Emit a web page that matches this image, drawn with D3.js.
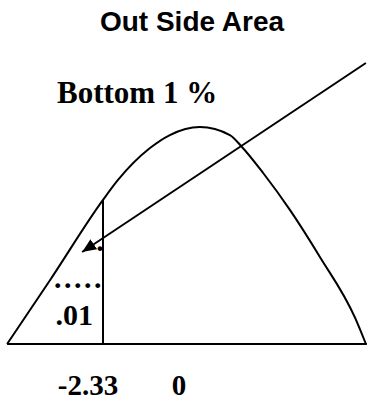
<!DOCTYPE html>
<html>
<head>
<meta charset="utf-8">
<script src="https://cdn.jsdelivr.net/npm/d3@7"></script>
<style>
  body { margin: 0; background: #fff; }
</style>
</head>
<body>
<div id="container"></div>
<script>
// curve: x in z units, y in relative height (peak = 1)
const curveZ = [-5.27, -3.95, -2.33, -1.87, -0.89, -0.28, 0.64, 1.56, 1.93, 2.58, 3.40, 4.32, 5.40, 5.73];
const curveH = [0, 0.295, 0.664, 0.756, 0.903, 0.963, 1, 0.963, 0.908, 0.788, 0.618, 0.401, 0.120, 0];
const cutZ = -2.33;
const cutH = 0.664;
const tickValues = [-2.33, 0];
const tickLabels = ["-2.33", "0"];
const arrowFrom = [5.73, 1.295];
const arrowTo = [-2.97, 0.424];
const title = "Out Side Area";
const tailLabel = "Bottom 1 %";
const areaLabel = ".01";

const w = 367;
const h = 402;

const x = d3.scaleLinear().domain([-2.33, 0]).range([103, 179]);
const y = d3.scaleLinear().domain([0, 1]).range([344, 127]);

const serif = "'Liberation Serif', 'Times New Roman', serif";

const svg = d3.select("#container")
  .append("svg")
  .attr("width", w)
  .attr("height", h);

svg.append("defs").append("marker")
  .attr("id", "head")
  .attr("viewBox", "0 0 14 12")
  .attr("refX", 14)
  .attr("refY", 6)
  .attr("markerWidth", 14)
  .attr("markerHeight", 12)
  .attr("markerUnits", "userSpaceOnUse")
  .attr("orient", "auto")
  .append("path")
  .attr("d", "M0,0 L14,6 L0,12 Z")
  .attr("fill", "#000");

// baseline
svg.append("line")
  .attr("x1", x(curveZ[0]))
  .attr("x2", x(curveZ[curveZ.length - 1]) + 1)
  .attr("y1", y(0))
  .attr("y2", y(0))
  .attr("stroke", "#000")
  .attr("stroke-width", 2);

const pts = curveZ.map((z, i) => [z, curveH[i]]);
const line = d3.line()
  .x(d => x(d[0]))
  .y(d => y(d[1]))
  .curve(d3.curveMonotoneX);

svg.append("path")
  .datum(pts)
  .attr("d", line)
  .attr("fill", "none")
  .attr("stroke", "#000")
  .attr("stroke-width", 2);

// cut-off line
svg.append("line")
  .attr("x1", x(cutZ))
  .attr("x2", x(cutZ))
  .attr("y1", y(0))
  .attr("y2", y(cutH))
  .attr("stroke", "#000")
  .attr("stroke-width", 2);

// arrow
svg.append("line")
  .attr("x1", x(arrowFrom[0]))
  .attr("y1", y(arrowFrom[1]))
  .attr("x2", x(arrowTo[0]))
  .attr("y2", y(arrowTo[1]))
  .attr("stroke", "#000")
  .attr("stroke-width", 2)
  .attr("marker-end", "url(#head)");

svg.append("text")
  .attr("x", 192)
  .attr("y", 31)
  .attr("text-anchor", "middle")
  .style("font-family", "'Liberation Sans', Arial, sans-serif")
  .style("font-weight", "bold")
  .style("font-size", "28px")
  .text(title);

svg.append("text")
  .attr("x", 57)
  .attr("y", 103)
  .style("font-family", serif)
  .style("font-weight", "bold")
  .style("font-size", "31px")
  .text(tailLabel);

svg.append("text")
  .attr("x", x(cutZ) - 10)
  .attr("y", 325)
  .attr("text-anchor", "end")
  .style("font-family", serif)
  .style("font-weight", "bold")
  .style("font-size", "30px")
  .text(areaLabel);

svg.append("text")
  .attr("x", x(cutZ) - 24)
  .attr("y", 288)
  .attr("text-anchor", "middle")
  .attr("letter-spacing", "2.5px")
  .style("font-family", serif)
  .style("font-weight", "bold")
  .style("font-size", "30px")
  .text(".....");

svg.append("text")
  .attr("x", x(cutZ) - 3)
  .attr("y", 251)
  .attr("text-anchor", "middle")
  .style("font-family", serif)
  .style("font-weight", "bold")
  .style("font-size", "30px")
  .text(".");

// tick labels
const labelDx = [-15, 0];
svg.append("g")
  .selectAll("text")
  .data(tickValues)
  .enter()
  .append("text")
  .attr("x", (d, i) => x(d) + labelDx[i])
  .attr("y", 395)
  .attr("text-anchor", "middle")
  .style("font-family", serif)
  .style("font-weight", "bold")
  .style("font-size", "29px")
  .text((d, i) => tickLabels[i]);
</script>
</body>
</html>
